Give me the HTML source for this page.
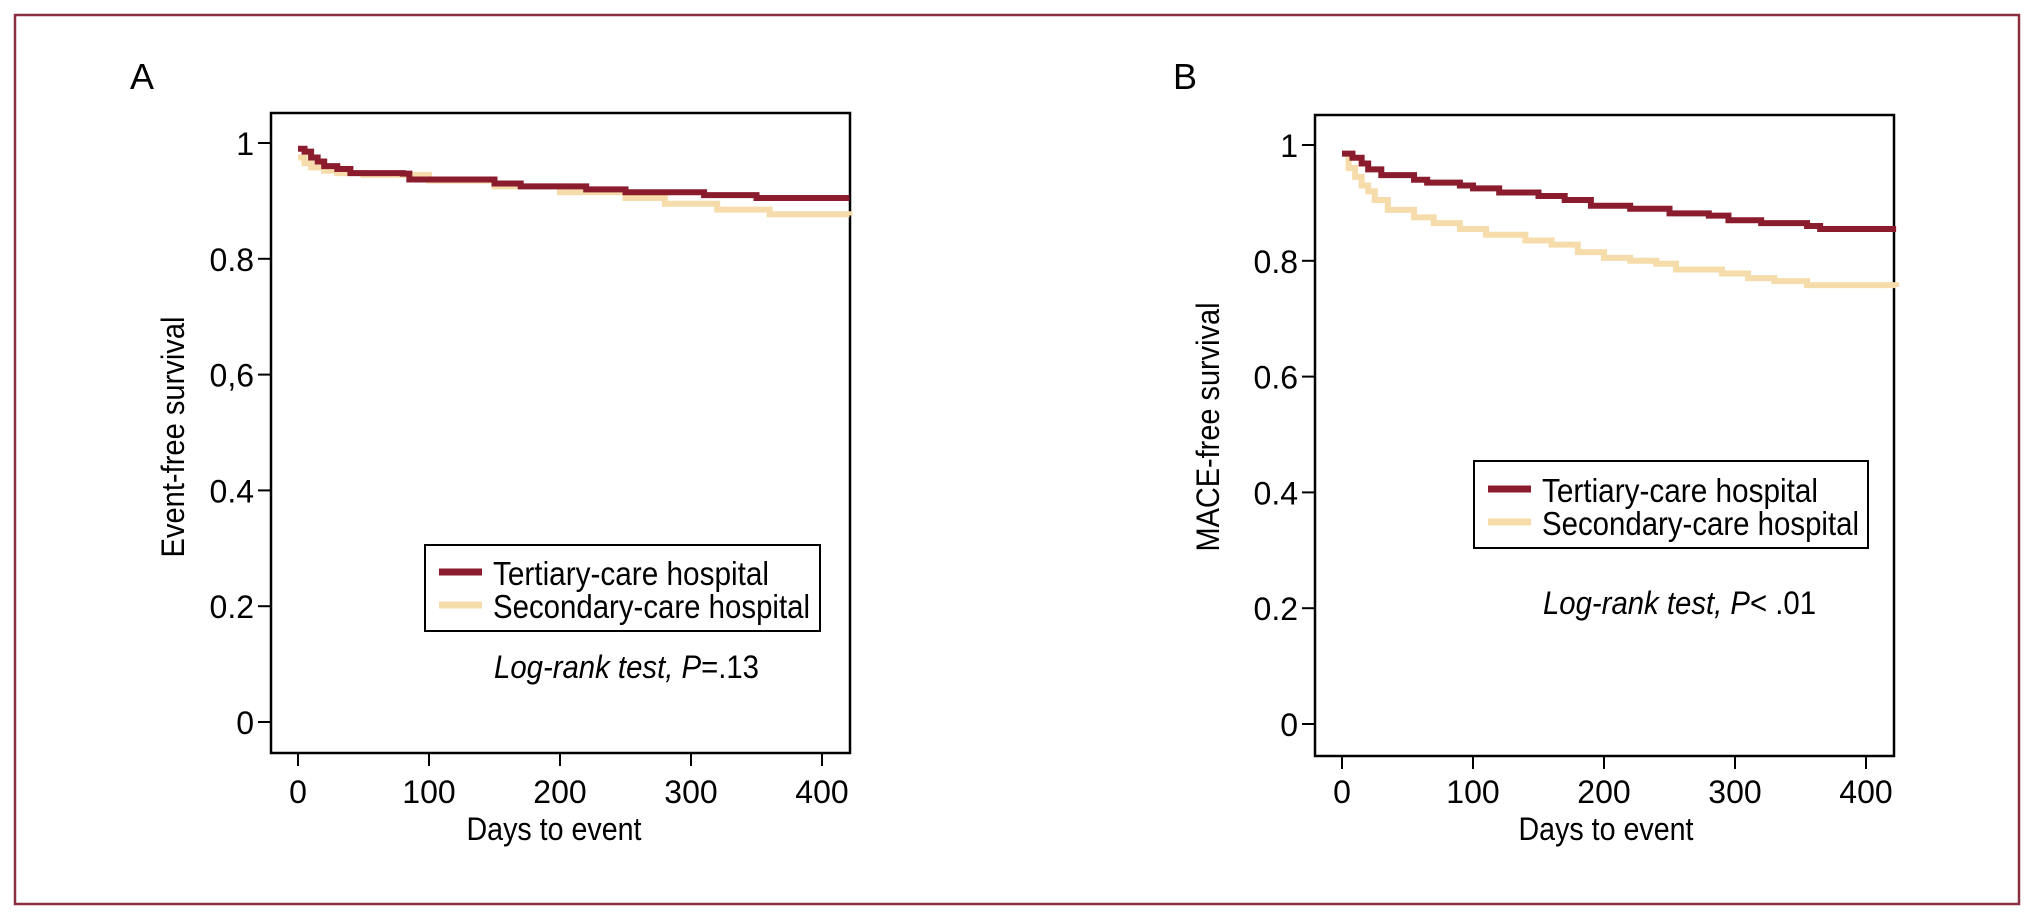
<!DOCTYPE html>
<html><head><meta charset="utf-8"><style>
html,body{margin:0;padding:0;background:#fff;}
svg{display:block;font-family:"Liberation Sans Narrow","Liberation Sans",sans-serif;}
</style></head><body>
<svg id="fig" width="2033" height="912" viewBox="0 0 2033 912">
<rect x="15" y="15" width="2004" height="889" fill="none" stroke="#8a2e42" stroke-width="2.5"/>
<g id="pa"></g>
<g id="pb"></g>
</svg>
<script>
// Panel A data
const daysA_tert = [0, 5, 10, 15, 20, 30, 40, 80, 85, 150, 170, 220, 250, 310, 350, 421];
const survA_tert = [0.99, 0.985, 0.975, 0.968, 0.96, 0.955, 0.948, 0.947, 0.937, 0.93, 0.925, 0.92, 0.915, 0.91, 0.905, 0.905];
const daysA_sec = [0, 5, 10, 20, 30, 50, 100, 150, 200, 250, 280, 320, 360, 421];
const survA_sec = [0.975, 0.965, 0.958, 0.952, 0.948, 0.945, 0.935, 0.925, 0.915, 0.905, 0.895, 0.885, 0.877, 0.875];
// Panel B data
const daysB_tert = [0, 8, 15, 20, 30, 55, 65, 90, 100, 120, 150, 170, 190, 220, 250, 280, 295, 320, 355, 365, 423];
const survB_tert = [0.985, 0.978, 0.968, 0.958, 0.948, 0.94, 0.935, 0.93, 0.925, 0.918, 0.912, 0.905, 0.895, 0.89, 0.882, 0.878, 0.87, 0.865, 0.86, 0.855, 0.855];
const daysB_sec = [0, 5, 10, 15, 20, 25, 35, 55, 70, 90, 110, 140, 160, 180, 200, 220, 240, 255, 290, 310, 330, 355, 423];
const survB_sec = [0.985, 0.96, 0.945, 0.93, 0.92, 0.905, 0.888, 0.875, 0.865, 0.855, 0.845, 0.835, 0.828, 0.815, 0.805, 0.8, 0.795, 0.785, 0.778, 0.77, 0.765, 0.758, 0.755];
const yTicks = [0, 0.2, 0.4, 0.6, 0.8, 1];
const yTickLabelsA = ["0", "0.2", "0.4", "0,6", "0.8", "1"];
const yTickLabelsB = ["0", "0.2", "0.4", "0.6", "0.8", "1"];
const xTicks = [0, 100, 200, 300, 400];

const NS = "http://www.w3.org/2000/svg";
function mk(parent, tag, attrs, text) {
  const e = document.createElementNS(NS, tag);
  for (const k in attrs) e.setAttribute(k, attrs[k]);
  if (text !== undefined) e.textContent = text;
  parent.appendChild(e);
  return e;
}
function panel(g, cfg) {
  const sx = d => cfg.x0 + (d / 400) * (cfg.x400 - cfg.x0);
  const sy = v => cfg.y0 - v * (cfg.y0 - cfg.y1);
  const fr = mk(g, "rect", {x: cfg.fl, y: cfg.ft, width: cfg.fr - cfg.fl, height: cfg.fb - cfg.ft, fill: "none", stroke: "#000", "stroke-width": 2.5});
  
  
  const lab = mk(g, "text", {x: cfg.labX, y: 89, "font-size": 36}, cfg.letter);
  
  
  yTicks.forEach((v, i) => {
    const y = sy(v);
    const t = mk(g, "line", {x1: cfg.fl - 13, x2: cfg.fl, y1: y, y2: y, stroke: "#000", "stroke-width": 2});
    
    
    const tl = mk(g, "text", {x: cfg.fl - 17, y: y + 12, "font-size": 32, "text-anchor": "end"}, cfg.yLabels[i]);
    
    
  });
  xTicks.forEach(d => {
    const x = sx(d);
    const t = mk(g, "line", {x1: x, x2: x, y1: cfg.fb, y2: cfg.fb + 13, stroke: "#000", "stroke-width": 2});
    
    
    const tl = mk(g, "text", {x: x, y: 803, "font-size": 32, "text-anchor": "middle"}, String(d));
    
    
  });
  const xl = mk(g, "text", {x: cfg.xlabX, y: 840, "font-size": 32, "text-anchor": "middle", textLength: 175, lengthAdjust: "spacingAndGlyphs"}, "Days to event");
  
  
  const yl = mk(g, "text", {x: 0, y: 0, "font-size": 32, "text-anchor": "middle", textLength: cfg.ylLen, lengthAdjust: "spacingAndGlyphs", transform: `translate(${cfg.ylX},${cfg.ylY}) rotate(-90)`}, cfg.ytitle);
  
  
  function step(days, surv, color, name) {
    let d = `M${sx(days[0])},${sy(surv[0])}`;
    for (let i = 1; i < days.length; i++) {
      d += ` H${sx(days[i])} V${sy(surv[i])}`;
    }
    const p = mk(g, "path", {d: d, fill: "none", stroke: color, "stroke-width": 6, "stroke-linejoin": "miter"});
    
    
  }
  step(cfg.sd, cfg.ss, "#f6dcaa", "secondary-care-curve");
  step(cfg.td, cfg.ts, "#8b1c2e", "tertiary-care-curve");
  const L = cfg.leg;
  const lb = mk(g, "rect", {x: L.x, y: L.y, width: L.w, height: L.h, fill: "#fff", stroke: "#000", "stroke-width": 2});
  
  
  const l1 = mk(g, "line", {x1: L.lx1, x2: L.lx2, y1: L.y1, y2: L.y1, stroke: "#8b1c2e", "stroke-width": 7});
  
  
  const t1 = mk(g, "text", {x: L.tx, y: L.y1 + 13, "font-size": 33, textLength: 276, lengthAdjust: "spacingAndGlyphs"}, "Tertiary-care hospital");
  
  
  const l2 = mk(g, "line", {x1: L.lx1, x2: L.lx2, y1: L.y2, y2: L.y2, stroke: "#f6dcaa", "stroke-width": 7});
  
  
  const t2 = mk(g, "text", {x: L.tx, y: L.y2 + 13, "font-size": 33, textLength: 317, lengthAdjust: "spacingAndGlyphs"}, "Secondary-care hospital");
  
  
  const lr = mk(g, "text", {x: cfg.lrX, y: cfg.lrY, "font-size": 32, textLength: cfg.lrW, lengthAdjust: "spacingAndGlyphs"});
  
  
  mk(lr, "tspan", {"font-style": "italic"}, "Log-rank test, P");
  mk(lr, "tspan", {}, cfg.pval);
}
panel(document.getElementById("pa"), {
  letter: "A", labX: 130, fl: 271, ft: 113, fr: 850, fb: 753,
  x0: 298, x400: 822, y0: 722, y1: 143, yLabels: yTickLabelsA,
  xlabX: 554, ytitle: "Event-free survival", ylX: 184, ylY: 437, ylLen: 241,
  td: daysA_tert, ts: survA_tert, sd: daysA_sec, ss: survA_sec,
  leg: {x: 425, y: 545, w: 395, h: 86, lx1: 439, lx2: 482, y1: 572, y2: 605, tx: 493},
  lrX: 494, lrY: 678, lrW: 265, pval: "=.13"
});
panel(document.getElementById("pb"), {
  letter: "B", labX: 1173, fl: 1315, ft: 115, fr: 1894, fb: 756,
  x0: 1342, x400: 1866, y0: 724, y1: 145, yLabels: yTickLabelsB,
  xlabX: 1606, ytitle: "MACE-free survival", ylX: 1219, ylY: 427, ylLen: 249,
  td: daysB_tert, ts: survB_tert, sd: daysB_sec, ss: survB_sec,
  leg: {x: 1474, y: 461, w: 394, h: 87, lx1: 1488, lx2: 1531, y1: 489, y2: 522, tx: 1542},
  lrX: 1543, lrY: 614, lrW: 273, pval: "< .01"
});
</script>
</body></html>
